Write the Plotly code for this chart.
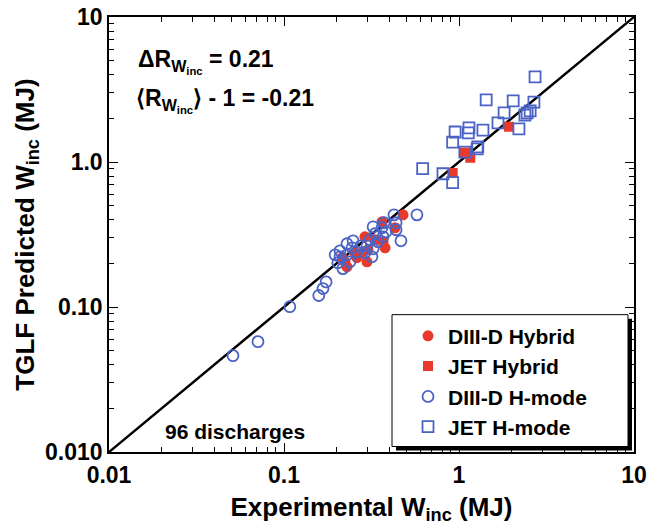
import plotly.graph_objects as go

# DIII-D H-mode (open circles)
d3h_exp = [0.575, 0.425, 0.437, 0.437, 0.466, 0.373, 0.323, 0.363, 0.331, 0.368,
           0.310, 0.344, 0.298, 0.323, 0.290, 0.318, 0.248, 0.229, 0.245, 0.209,
           0.261, 0.209, 0.229, 0.238, 0.203, 0.217, 0.275, 0.196, 0.383,
           0.174, 0.167, 0.158, 0.108, 0.071, 0.0511]
d3h_pred = [0.432, 0.432, 0.381, 0.341, 0.286, 0.381, 0.357, 0.352, 0.320, 0.305,
            0.291, 0.282, 0.264, 0.252, 0.237, 0.222, 0.286, 0.273, 0.256, 0.244,
            0.240, 0.222, 0.229, 0.205, 0.202, 0.184, 0.264, 0.229, 0.330,
            0.149, 0.134, 0.120, 0.1005, 0.0577, 0.0462]

# DIII-D Hybrid (filled circles)
d3hy_exp = [0.479, 0.431, 0.363, 0.368, 0.378, 0.290, 0.298, 0.283, 0.261, 0.229,
            0.215, 0.331, 0.302, 0.254, 0.223]
d3hy_pred = [0.432, 0.352, 0.387, 0.282, 0.256, 0.305, 0.205, 0.240, 0.219, 0.189,
             0.219, 0.291, 0.248, 0.237, 0.205]

# JET H-mode (open squares)
jeth_exp = [2.72, 1.43, 2.04, 2.68, 1.81, 2.45, 2.55, 2.38, 1.67, 2.20, 1.14,
            0.95, 1.13, 1.37, 0.92, 1.08, 1.28, 1.27, 0.62, 0.81, 0.92]
jeth_pred = [3.86, 2.68, 2.64, 2.59, 2.18, 2.18, 2.25, 2.11, 1.86, 1.69, 1.72,
             1.61, 1.59, 1.66, 1.37, 1.17, 1.27, 1.23, 0.90, 0.83, 0.72]

# JET Hybrid (filled squares)
jethy_exp = [1.93, 1.08, 1.16, 0.92]
jethy_pred = [1.75, 1.16, 1.07, 0.84]

unity = [0.01, 10]

x_tickvals = [0.01, 0.1, 1, 10]
x_ticktext = ["0.01", "0.1", "1", "10"]
y_tickvals = [0.01, 0.1, 1, 10]
y_ticktext = ["0.010", "0.10", "1.0", "10"]
minor_vals = [m * 10 ** e for e in (-2, -1, 0) for m in range(2, 10)]

RED = "#e8392b"
BLUE = "#4b63c4"
FONT = "Liberation Sans, Arial, sans-serif"

# plot-area geometry in pixels (for paper-coordinate helpers)
L, R, T, B = 109, 634, 17, 452.5
def px(xp):
    return (xp - L) / (R - L)
def py(yp):
    return (B - yp) / (B - T)

fig = go.Figure()
fig.add_trace(go.Scatter(x=unity, y=unity, mode="lines",
                         line=dict(color="black", width=2.5),
                         showlegend=False, hoverinfo="skip"))
fig.add_trace(go.Scatter(x=d3hy_exp, y=d3hy_pred, mode="markers", name="DIII-D Hybrid",
                         marker=dict(symbol="circle", size=11, color=RED,
                                     line=dict(width=0))))
fig.add_trace(go.Scatter(x=jethy_exp, y=jethy_pred, mode="markers", name="JET Hybrid",
                         marker=dict(symbol="square", size=10, color=RED,
                                     line=dict(width=0))))
fig.add_trace(go.Scatter(x=d3h_exp, y=d3h_pred, mode="markers", name="DIII-D H-mode",
                         marker=dict(symbol="circle-open", size=11, color=BLUE,
                                     line=dict(width=1.8, color=BLUE))))
fig.add_trace(go.Scatter(x=jeth_exp, y=jeth_pred, mode="markers", name="JET H-mode",
                         marker=dict(symbol="square-open", size=11, color=BLUE,
                                     line=dict(width=1.8, color=BLUE))))

axis_common = dict(
    type="log", range=[-2, 1], showgrid=False, zeroline=False, automargin=False,
    showline=True, linecolor="black", linewidth=1.5, mirror="allticks",
    ticks="inside", ticklen=9, tickwidth=1.3, tickcolor="black",
    tickfont=dict(family=FONT, size=23, color="black", weight="bold"),
    minor=dict(tickvals=minor_vals, ticks="inside", ticklen=5, tickwidth=1.2,
               tickcolor="black", showgrid=False),
)

fig.update_xaxes(**axis_common, tickvals=x_tickvals, ticktext=x_ticktext, ticklabelstandoff=2,
                 title=dict(text="Experimental W<sub>inc</sub> (MJ)", standoff=10,
                            font=dict(family=FONT, size=26, color="black", weight="bold")))
fig.update_yaxes(**axis_common, tickvals=y_tickvals, ticktext=y_ticktext, ticklabelstandoff=0,
                 title=dict(text="TGLF Predicted W<sub>inc</sub> (MJ)", standoff=3,
                            font=dict(family=FONT, size=26, color="black", weight="bold")))

ann_font = dict(family=FONT, size=23, color="black", weight="bold")
fig.add_annotation(x=px(136), y=py(62), xref="paper", yref="paper", xanchor="left", yanchor="middle",
                   text="ΔR<sub>W<sub>inc</sub></sub> = 0.21", showarrow=False, font=ann_font)
fig.add_annotation(x=px(134), y=py(101), xref="paper", yref="paper", xanchor="left", yanchor="middle",
                   text="⟨R<sub>W<sub>inc</sub></sub>⟩ - 1 = -0.21", showarrow=False, font=ann_font)
fig.add_annotation(x=px(163), y=py(432), xref="paper", yref="paper", xanchor="left", yanchor="middle",
                   text="96 discharges", showarrow=False,
                   font=dict(family=FONT, size=21, color="black", weight="bold"))

# legend frame with drop shadow
fig.add_shape(type="rect", xref="paper", yref="paper",
              x0=px(396), x1=px(632), y0=py(451), y1=py(319),
              fillcolor="black", line=dict(width=0), layer="above")
fig.add_shape(type="rect", xref="paper", yref="paper",
              x0=px(392), x1=px(628), y0=py(447), y1=py(315),
              fillcolor="white", line=dict(width=1, color="black"), layer="above")

fig.update_layout(
    width=651, height=527,
    margin=dict(l=L, r=651 - R, t=T, b=527 - B),
    paper_bgcolor="white", plot_bgcolor="white",
    showlegend=True,
    legend=dict(x=px(408), y=py(316), xanchor="left", yanchor="top",
                bgcolor="rgba(0,0,0,0)", borderwidth=0,
                font=dict(family=FONT, size=21, color="black", weight="bold"),
                itemwidth=30, tracegroupgap=0),
)

fig.write_html("out.html", config={"displayModeBar": False},
               post_script="document.body.style.margin='0px';")
